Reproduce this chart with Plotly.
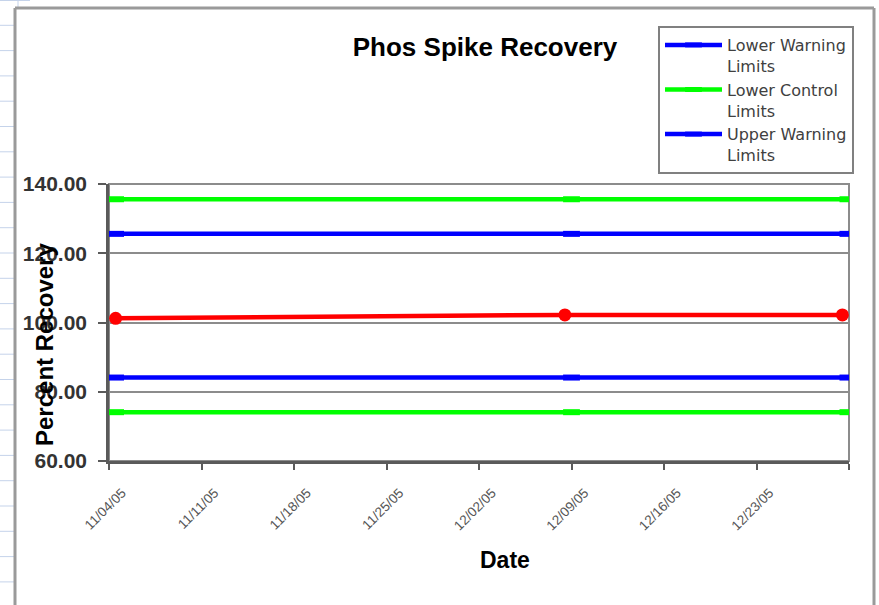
import plotly.graph_objects as go

# ---------------- data ----------------
recovery_dates = ["2005-11-04 12:00", "2005-12-08 12:00", "2005-12-29 12:00"]
recovery_values = [101.2, 102.2, 102.2]

limit_dates = ["2005-11-04 12:00", "2005-12-09 00:00", "2005-12-29 22:00"]
upper_control = [135.6, 135.6, 135.6]
upper_warning = [125.6, 125.6, 125.6]
lower_warning = [84.1, 84.1, 84.1]
lower_control = [74.1, 74.1, 74.1]

x_tick_dates = ["2005-11-04", "2005-11-11", "2005-11-18", "2005-11-25",
                "2005-12-02", "2005-12-09", "2005-12-16", "2005-12-23", "2005-12-30"]
x_tick_labels = ["11/04/05", "11/11/05", "11/18/05", "11/25/05",
                 "12/02/05", "12/09/05", "12/16/05", "12/23/05", ""]
y_tick_values = [60, 80, 100, 120, 140]

# ---------------- geometry helpers ----------------
W, H = 879, 605
L, R, T, B = 109, 849, 184, 461


def px(x):
    return (x - L) / (R - L)


def py(y):
    return (B - y) / (B - T)


FONT = "Arial, Liberation Sans, sans-serif"
LEGEND_FONT = "DejaVu Sans, Arial, sans-serif"
BLUE = "#0000ff"
GREEN = "#00ff00"
RED = "#ff0000"

fig = go.Figure()

# series order: the legend only shows the first three (truncated like the original)
fig.add_trace(go.Scatter(x=limit_dates, y=lower_warning, mode="lines+markers",
                         name="Lower Warning<br>Limits",
                         line=dict(color=BLUE, width=4.5),
                         marker=dict(symbol="line-ew", size=12, line=dict(color=BLUE, width=6))))
fig.add_trace(go.Scatter(x=limit_dates, y=lower_control, mode="lines+markers",
                         name="Lower Control<br>Limits",
                         line=dict(color=GREEN, width=4.5),
                         marker=dict(symbol="line-ew", size=12, line=dict(color=GREEN, width=6))))
fig.add_trace(go.Scatter(x=limit_dates, y=upper_warning, mode="lines+markers",
                         name="Upper Warning<br>Limits",
                         line=dict(color=BLUE, width=4.5),
                         marker=dict(symbol="line-ew", size=12, line=dict(color=BLUE, width=6))))
fig.add_trace(go.Scatter(x=limit_dates, y=upper_control, mode="lines+markers",
                         name="Upper Control Limits", showlegend=False,
                         line=dict(color=GREEN, width=4.5),
                         marker=dict(symbol="line-ew", size=12, line=dict(color=GREEN, width=6))))
fig.add_trace(go.Scatter(x=recovery_dates, y=recovery_values, mode="lines+markers",
                         name="Percent Recovery", showlegend=False,
                         line=dict(color=RED, width=4.5),
                         marker=dict(symbol="circle", size=13, color=RED)))

# ---------------- decorative frame (spreadsheet background) ----------------
shapes = []
y = 25.3
while y < H:
    shapes.append(dict(type="line", xref="paper", yref="paper",
                       x0=px(0), x1=px(14), y0=py(y), y1=py(y),
                       line=dict(color="#c5d3ea", width=1)))
    y += 25.3
shapes.append(dict(type="line", xref="paper", yref="paper",
                   x0=px(0), x1=px(30), y0=py(0.5), y1=py(0.5),
                   line=dict(color="#c5d3ea", width=1)))
shapes.append(dict(type="line", xref="paper", yref="paper",
                   x0=px(18), x1=px(18), y0=py(0), y1=py(7),
                   line=dict(color="#c5d3ea", width=1)))
shapes.append(dict(type="line", xref="paper", yref="paper",
                   x0=px(15), x1=px(15), y0=py(8), y1=py(H),
                   line=dict(color="#9a9a9a", width=3)))
shapes.append(dict(type="line", xref="paper", yref="paper",
                   x0=px(15), x1=px(874), y0=py(8), y1=py(8),
                   line=dict(color="#9a9a9a", width=3)))
shapes.append(dict(type="line", xref="paper", yref="paper",
                   x0=px(874), x1=px(874), y0=py(8), y1=py(H),
                   line=dict(color="#9a9a9a", width=3)))
shapes.append(dict(type="rect", xref="paper", yref="paper",
                   x0=0, x1=1, y0=0, y1=1, layer="below",
                   line=dict(color="#8c8c8c", width=2)))

annotations = [
    dict(text="<b>Percent Recovery</b>", xref="paper", yref="paper",
         x=px(44), y=py(345), xanchor="center", yanchor="middle",
         textangle=-90, showarrow=False,
         font=dict(family=FONT, size=24, color="#000000")),
    dict(text="<b>Date</b>", xref="paper", yref="paper",
         x=px(505), y=py(560), xanchor="center", yanchor="middle",
         showarrow=False, font=dict(family=FONT, size=23, color="#000000")),
]

fig.update_layout(
    width=W, height=H,
    margin=dict(l=L, r=W - R, t=T, b=H - B, pad=0),
    paper_bgcolor="#ffffff", plot_bgcolor="#ffffff",
    title=dict(text="<b>Phos Spike Recovery</b>", x=485 / W, xanchor="center",
               y=1 - 47 / H, yanchor="middle",
               font=dict(family=FONT, size=26, color="#000000")),
    legend=dict(x=px(658), y=py(26), xanchor="left", yanchor="top",
                bgcolor="#ffffff", bordercolor="#808080", borderwidth=2,
                font=dict(family=LEGEND_FONT, size=16, color="#404040"),
                valign="top", itemwidth=57, tracegroupgap=0),
    shapes=shapes,
    annotations=annotations,
    showlegend=True,
)

fig.update_xaxes(type="date", range=["2005-11-04", "2005-12-30"],
                 tickmode="array", tickvals=x_tick_dates, ticktext=x_tick_labels,
                 tickangle=-45, ticks="outside", ticklen=6, tickwidth=2, tickcolor="#5a5a5a",
                 ticklabelstandoff=10, ticklabelshift=13,
                 tickfont=dict(family=FONT, size=13.5, color="#555555"),
                 showline=True, linecolor="#5a5a5a", linewidth=2.5,
                 showgrid=False, zeroline=False, fixedrange=True)
fig.update_yaxes(range=[60, 140], tickmode="array", tickvals=y_tick_values,
                 tickformat=".2f", ticks="outside", ticklen=8, tickwidth=2, tickcolor="#5a5a5a",
                 ticklabelstandoff=7,
                 tickfont=dict(family=FONT, size=21, color="#333333", weight="bold"),
                 showline=True, linecolor="#5a5a5a", linewidth=2.5,
                 showgrid=True, gridcolor="#8c8c8c", gridwidth=2,
                 zeroline=False, fixedrange=True)

fig.write_html("out.html", config={"displayModeBar": False},
               post_script="document.body.style.margin='0';")
